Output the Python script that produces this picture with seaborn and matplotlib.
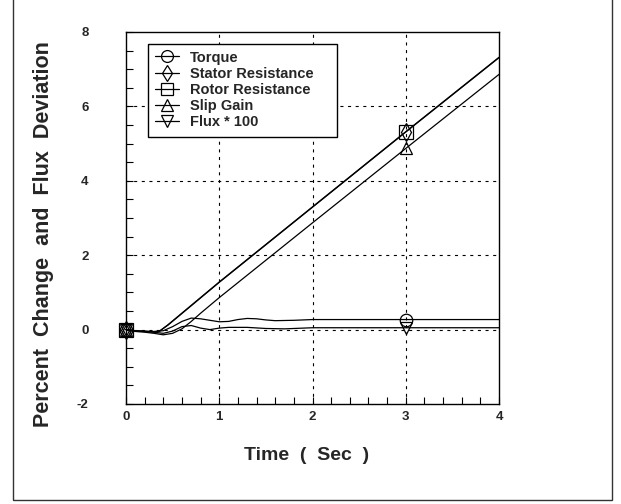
import matplotlib
matplotlib.use("Agg")
import matplotlib.pyplot as plt
import seaborn as sns
import numpy as np
import pandas as pd
from matplotlib.ticker import MultipleLocator
from matplotlib.patches import Rectangle

# ---- data ----
time_res = [0.0, 0.1, 0.2, 0.3, 0.36, 0.45, 1.0, 2.0, 3.0, 4.0]
stator = [0.0, -0.04, -0.05, -0.06, -0.04, 0.12, 1.27, 3.29, 5.31, 7.31]
rotor = [0.0, -0.04, -0.05, -0.06, -0.04, 0.13, 1.28, 3.30, 5.32, 7.32]

time_slip = [0.0, 0.1, 0.2, 0.3, 0.4, 0.5, 0.6, 0.7, 0.8, 0.9, 1.0, 2.0, 3.0, 4.0]
slip = [0.0, -0.05, -0.07, -0.1, -0.14, -0.1, 0.02, 0.22, 0.44, 0.65, 0.86, 2.87, 4.87, 6.86]

time_tq = [0.0, 0.1, 0.2, 0.3, 0.4, 0.5, 0.6, 0.7, 0.8, 0.9, 1.0, 1.1, 1.2, 1.3,
           1.4, 1.5, 1.6, 1.8, 2.0, 2.5, 3.0, 3.5, 4.0]
torque = [0.0, -0.03, -0.04, -0.05, -0.03, 0.08, 0.22, 0.31, 0.29, 0.25, 0.21, 0.22,
          0.27, 0.30, 0.29, 0.26, 0.24, 0.25, 0.27, 0.27, 0.27, 0.27, 0.27]

time_fx = [0.0, 0.1, 0.2, 0.3, 0.4, 0.5, 0.6, 0.7, 0.8, 0.9, 1.0, 1.1, 1.3, 1.5,
           1.7, 2.0, 3.0, 4.0]
flux = [0.0, -0.04, -0.05, -0.07, -0.1, -0.04, 0.08, 0.11, 0.04, 0.0, 0.04, 0.06,
        0.06, 0.03, 0.02, 0.05, 0.05, 0.05]

marker_times = [0.0, 3.0]

series_names = ["Torque", "Stator Resistance", "Rotor Resistance", "Slip Gain", "Flux * 100"]
x_ticks = [0, 1, 2, 3, 4]
y_ticks = [-2, 0, 2, 4, 6, 8]

# ---- style ----
sns.set_style("ticks")
plt.rcParams["font.family"] = ["Liberation Sans", "DejaVu Sans"]
plt.rcParams["lines.scale_dashes"] = False
plt.rcParams["axes.unicode_minus"] = False

fig = plt.figure(figsize=(6.21, 5.04), dpi=100)
ax = fig.add_axes([126 / 621, 1 - 404 / 504, 373 / 621, 372 / 504])

series = [
    (time_tq, torque, "o", series_names[0]),
    (time_res, stator, "d", series_names[1]),
    (time_res, rotor, "s", series_names[2]),
    (time_slip, slip, "^", series_names[3]),
    (time_fx, flux, "v", series_names[4]),
]
msizes = {"o": 9, "d": 9, "s": 9.5, "^": 9, "v": 9}

for t, v, m, name in series:
    df = pd.DataFrame({"t": t, "v": v})
    idx = [t.index(mt) for mt in marker_times]
    sns.lineplot(data=df, x="t", y="v", ax=ax, color="black", lw=0.9,
                 marker=m, markevery=idx, markersize=msizes[m],
                 markerfacecolor="none", markeredgecolor="black",
                 markeredgewidth=0.9, label=name, clip_on=False,
                 sort=False, estimator=None)

ax.set_xlim(0, 4)
ax.set_ylim(-2, 8)
ax.set_xticks(x_ticks)
ax.set_yticks(y_ticks)
ax.xaxis.set_minor_locator(MultipleLocator(0.2))
ax.yaxis.set_minor_locator(MultipleLocator(0.5))
ax.tick_params(axis="both", which="both", direction="in", length=5, width=0.8,
               color="black", top=False, right=False)
ax.tick_params(axis="x", which="major", pad=5, labelsize=9.5)
ax.tick_params(axis="y", which="major", pad=27, labelsize=9.5)
for lab in ax.get_xticklabels() + ax.get_yticklabels():
    lab.set_fontweight("bold")

# dashed grid at interior majors
for xv in x_ticks[1:-1]:
    ax.axvline(xv, color="black", lw=0.8, ls=(0, (2.2, 3.3)), zorder=0.5)
for yv in y_ticks[1:-1]:
    ax.axhline(yv, color="black", lw=0.8, ls=(0, (2.2, 3.3)), zorder=0.5)

for sp in ax.spines.values():
    sp.set_linewidth(1.0)
    sp.set_color("black")

ax.set_xlabel("Time  (  Sec  )", fontsize=14, fontweight="bold", va="center")
ax.set_ylabel("Percent  Change  and  Flux  Deviation", fontsize=15.5, fontweight="bold", va="center")
ax.xaxis.set_label_coords((307 - 126) / 373, (404 - 455) / 372)
ax.yaxis.set_label_coords((43 - 126) / 373, (404 - 234) / 372)

leg = ax.legend(loc="upper left", bbox_to_anchor=((148 - 126) / 373, (404 - 44) / 372),
                borderaxespad=0, frameon=False,
                prop={"size": 10.5, "weight": "bold"}, handlelength=1.7,
                handletextpad=0.7, labelspacing=0.15, borderpad=0.45,
                markerscale=0.95)
leg.set_zorder(6)
# legend box (wider right padding than matplotlib's symmetric frame)
ax.add_patch(Rectangle(((148 - 126) / 373, (404 - 137) / 372), (337 - 148) / 373, 93 / 372,
                       transform=ax.transAxes, facecolor="white", edgecolor="black",
                       lw=1.0, zorder=5))

# outer frame
fig.patches.append(Rectangle((13 / 621, 4 / 504), 599 / 621, 1.2, transform=fig.transFigure,
                             fill=False, edgecolor="#333333", lw=1.0))

fig.savefig("out.png", dpi=100)
